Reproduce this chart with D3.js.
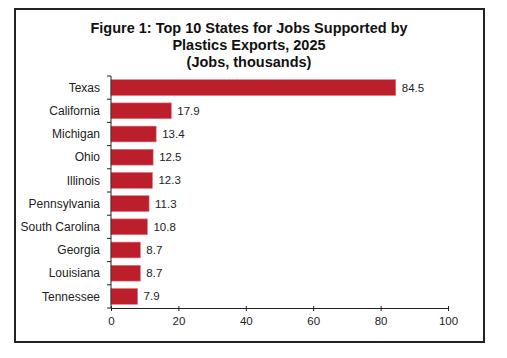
<!DOCTYPE html>
<html><head><meta charset="utf-8">
<script src="https://cdn.jsdelivr.net/npm/d3@7"></script>
<style>body{margin:0;background:#fff;}svg{display:block;font-family:"Liberation Sans",Arial,sans-serif;}</style>
</head><body>
<script>
const states = ["Texas","California","Michigan","Ohio","Illinois","Pennsylvania","South Carolina","Georgia","Louisiana","Tennessee"];
const jobs = [84.5,17.9,13.4,12.5,12.3,11.3,10.8,8.7,8.7,7.9];
const xTicks = [0,20,40,60,80,100];
const titleLines = ["Figure 1: Top 10 States for Jobs Supported by","Plastics Exports, 2025","(Jobs, thousands)"];

const W=507,H=358;
const svg=d3.select("body").append("svg").attr("width",W).attr("height",H);
svg.append("rect").attr("x",15).attr("y",9).attr("width",469).attr("height",333)
  .attr("fill","#fff").attr("stroke","#222").attr("stroke-width",2);

svg.append("g").selectAll("text").data(titleLines).join("text")
  .attr("x",249).attr("y",(d,i)=>33+i*17).attr("text-anchor","middle")
  .attr("font-weight","bold").attr("font-size",14.5).attr("fill","#111").text(d=>d);

const x=d3.scaleLinear().domain([0,100]).range([111,448]);
const y=d3.scaleBand().domain(states).range([76,308]).paddingInner(0.32).paddingOuter(0.16);

svg.append("g").selectAll("rect").data(states).join("rect")
  .attr("x",x(0)).attr("y",d=>y(d)).attr("height",y.bandwidth())
  .attr("width",(d,i)=>x(jobs[i])-x(0))
  .attr("fill","#bd1e2b").attr("stroke","#e8707a").attr("stroke-width",0.6);

svg.append("g").selectAll("text").data(states).join("text")
  .attr("x",(d,i)=>x(jobs[i])+6).attr("y",d=>y(d)+y.bandwidth()/2).attr("dy","0.35em")
  .attr("font-size",11.5).attr("fill","#222").text((d,i)=>d3.format(".1f")(jobs[i]));

const ya=svg.append("g");
ya.append("line").attr("x1",x(0)).attr("x2",x(0)).attr("y1",76).attr("y2",308).attr("stroke","#222");
const bounds=d3.range(states.length+1).map(i=>76+i*y.step());
ya.selectAll("line.t").data(bounds).join("line").attr("class","t")
  .attr("x1",x(0)-4).attr("x2",x(0)).attr("y1",d=>d).attr("y2",d=>d).attr("stroke","#222");
ya.selectAll("text").data(states).join("text")
  .attr("x",100).attr("y",d=>y(d)+y.bandwidth()/2).attr("dy","0.35em")
  .attr("text-anchor","end").attr("font-size",12).attr("fill","#222").text(d=>d);

const xa=svg.append("g").attr("transform","translate(0,308)")
  .call(d3.axisBottom(x).tickValues(xTicks).tickSize(4).tickSizeOuter(0));
xa.select(".domain").attr("stroke","#222");
xa.selectAll(".tick line").attr("stroke","#222").attr("y1",-2).attr("y2",3);
xa.selectAll(".tick text").attr("font-size",11.5).attr("fill","#222").attr("font-family","Liberation Sans, Arial, sans-serif").attr("dy","0.9em");
</script>
</body></html>
